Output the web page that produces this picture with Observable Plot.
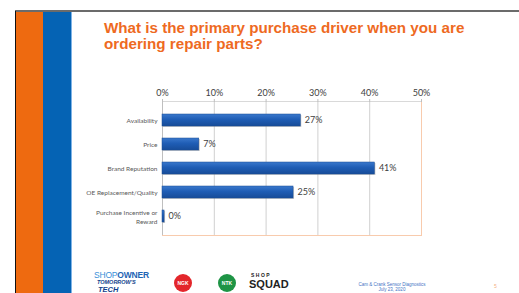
<!DOCTYPE html>
<html><head><meta charset="utf-8">
<script src="https://cdn.jsdelivr.net/npm/d3@7"></script>
<script src="https://cdn.jsdelivr.net/npm/@observablehq/plot@0.6"></script>
<style>
html,body{margin:0;padding:0;background:#fff;}
#slide{position:relative;width:519px;height:293px;overflow:hidden;font-family:"Liberation Sans",Arial,sans-serif;}
.abs{position:absolute;}
#title{left:104px;top:20px;color:#EE6A1F;font-weight:bold;font-size:15.2px;line-height:16px;white-space:nowrap;}
#chart{left:0;top:80px;}
</style></head>
<body>
<div id="slide">
  <div class="abs" style="left:15px;top:10px;width:504px;height:2px;background:#6b6b6b"></div>
  <div class="abs" style="left:15px;top:11px;width:1px;height:282px;background:#111"></div>
  <div class="abs" style="left:16px;top:12px;width:27px;height:281px;background:#EE6A10"></div>
  <div class="abs" style="left:43px;top:12px;width:28px;height:281px;background:#0563B4"></div>
  <div class="abs" style="left:71px;top:12px;width:1px;height:281px;background:#7fb3e6"></div>
  <div id="title" class="abs">What is the primary purchase driver when you are<br>ordering repair parts?</div>
  <div id="chart" class="abs"></div>
  <div class="abs" style="left:94px;top:271px;font-size:8.5px;line-height:8px;color:#1e64b4;white-space:nowrap;letter-spacing:-0.2px"><span style="color:#3a8fd8">SHOP</span><b>OWNER</b></div>
  <div class="abs" style="left:97px;top:279.5px;font-size:5.5px;line-height:5.5px;color:#123f8c;font-weight:bold;font-style:italic;white-space:nowrap">TOMORROW'S</div>
  <div class="abs" style="left:98px;top:285.5px;font-size:7.5px;line-height:7.5px;color:#123f8c;font-weight:bold;font-style:italic;white-space:nowrap">TECH</div>
  <div class="abs" style="left:174px;top:274px;width:18px;height:18px;border-radius:50%;background:#e3262b;color:#fff;font-size:5px;font-weight:bold;text-align:center;line-height:18px">NGK</div>
  <div class="abs" style="left:218px;top:274px;width:18px;height:18px;border-radius:50%;background:#1e9445;color:#fff;font-size:5px;font-weight:bold;text-align:center;line-height:18px">NTK</div>
  <div class="abs" style="left:251px;top:273px;font-size:5px;line-height:5px;font-weight:bold;color:#222;letter-spacing:1.5px;white-space:nowrap">SHOP</div>
  <div class="abs" style="left:249px;top:279px;font-size:11px;line-height:11px;font-weight:900;color:#222;white-space:nowrap">SQUAD</div>
  <div class="abs" style="left:340px;top:282px;width:104px;text-align:center;font-size:4.5px;line-height:5px;color:#4472C4">Cam &amp; Crank Sensor Diagnostics<br>July 23, 2020</div>
  <div class="abs" style="left:494px;top:283px;font-size:5px;color:#F4B183">5</div>
</div>
<script>
const categories = ["Availability", "Price", "Brand Reputation", "OE Replacement/Quality", "Purchase Incentive or\nReward"];
const shares = [26.7, 7.1, 41.0, 25.3, 0.4];
const labels = ["27%", "7%", "41%", "25%", "0%"];
const xTicks = [0, 10, 20, 30, 40, 50];

const data = categories.map((c, i) => ({cat: c, value: shares[i], label: labels[i]}));

const plot = Plot.plot({
  width: 519, height: 160,
  marginLeft: 162, marginRight: 98, marginTop: 21, marginBottom: 5,
  style: {fontFamily: "Lato, 'Open Sans', sans-serif", background: "transparent"},
  x: {domain: [0, 50], axis: null},
  y: {domain: categories, padding: 0.48, axis: null},
  marks: [
    Plot.ruleX([10, 20, 30, 40], {stroke: "#d0d0d0"}),
    Plot.frame({anchor: "top", stroke: "#d9d9d9"}),
    Plot.frame({anchor: "bottom", stroke: "#F8CBAD"}),
    Plot.frame({anchor: "right", stroke: "#F8CBAD"}),
    Plot.ruleX([0], {stroke: "#bfbfbf"}),
    Plot.axisX({anchor: "top", label: null, ticks: xTicks, tickFormat: d => d + "%", tickSize: 3, tickPadding: 3, fontSize: 9, fill: "#404040", stroke: "#bfbfbf"}),
    Plot.barX(data, {x: "value", y: "cat", fill: "#8a8a8a", fillOpacity: 0.45, dx: 1, dy: 1}),
    Plot.barX(data, {x: "value", y: "cat", fill: "url(#barGrad)", stroke: "#1a4c94", strokeWidth: 0.5}),
    Plot.text(data, {x: "value", y: "cat", text: "label", textAnchor: "start", dx: 4, fontSize: 9, fill: "#404040"}),
    Plot.text(data, {x: 0, y: "cat", text: "cat", textAnchor: "end", dx: -5, fontSize: 6.5, fill: "#595959", lineHeight: 1.35})
  ]
});
const svg = d3.select(plot);
const grad = svg.insert("defs", ":first-child").append("linearGradient")
  .attr("id", "barGrad").attr("x1", 0).attr("y1", 0).attr("x2", 0).attr("y2", 1);
grad.append("stop").attr("offset", "0%").attr("stop-color", "#3a78cc");
grad.append("stop").attr("offset", "45%").attr("stop-color", "#1f5db5");
grad.append("stop").attr("offset", "100%").attr("stop-color", "#174c98");
document.getElementById("chart").appendChild(plot);
</script>
</body></html>
